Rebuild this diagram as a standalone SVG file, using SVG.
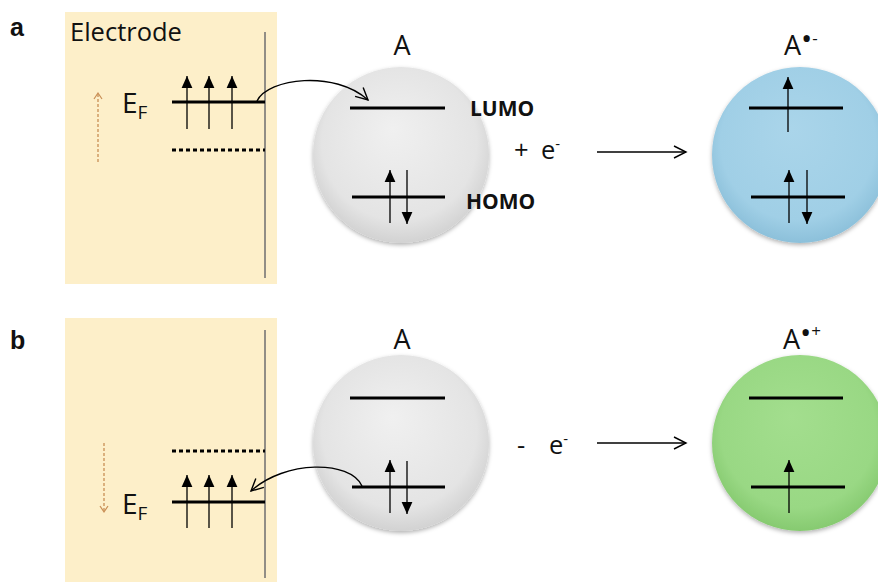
<svg xmlns="http://www.w3.org/2000/svg" width="878" height="582" viewBox="0 0 878 582">
<style>
  text { font-family: "Open Sans", "Liberation Sans", sans-serif; fill: #111; }
  .panel { font-family: "Liberation Sans", Arial, sans-serif; font-weight: bold; font-size: 25px; }
  .lbl { font-size: 25.5px; }
  .ef { font-size: 28px; }
  .mol { font-size: 27px; }
  .orb { font-weight: bold; font-size: 21px; }
  .electrode { fill: #FDEFC9; }
  .wall { stroke: #6E6E6E; stroke-width: 1.5; }
  .level { stroke: #000; stroke-width: 3.2; }
  .dotted { stroke: #000; stroke-width: 3.2; stroke-dasharray: 4 3; }
  .spin { stroke: #000; stroke-width: 1.3; marker-end: url(#spinHead); }
  .shift { stroke: #C98E55; stroke-width: 1.3; stroke-dasharray: 3 2; fill: none; marker-end: url(#shiftHead); }
  .transfer { stroke: #000; stroke-width: 1.4; fill: none; marker-end: url(#openHead); }
</style>
<defs>
  <marker id="spinHead" markerUnits="userSpaceOnUse" markerWidth="12" markerHeight="12" viewBox="0 0 10 9" refX="10" refY="4.5" orient="auto">
    <path d="M0,0 L10,4.5 L0,9 Z" fill="#000"/>
  </marker>
  <marker id="openHead" markerUnits="userSpaceOnUse" markerWidth="16" markerHeight="16" viewBox="-14 -8 16 16" refX="0" refY="0" orient="auto">
    <path d="M-12,-6 L0,0 L-12,6" fill="none" stroke="#000" stroke-width="1.4"/>
  </marker>
  <marker id="shiftHead" markerUnits="userSpaceOnUse" markerWidth="12" markerHeight="12" viewBox="-8 -6 10 12" refX="0" refY="0" orient="auto">
    <path d="M-6,-4 L0,0 L-6,4" fill="none" stroke="#C98E55" stroke-width="1.2"/>
  </marker>
  <radialGradient id="grayFill" cx="50%" cy="45%" r="55%" fx="45%" fy="35%">
    <stop offset="0" stop-color="#F0F0F0"/>
    <stop offset="0.8" stop-color="#E4E4E4"/>
    <stop offset="1" stop-color="#D2D2D2"/>
  </radialGradient>
  <radialGradient id="blueFill" cx="50%" cy="45%" r="55%" fx="45%" fy="35%">
    <stop offset="0" stop-color="#AAD5EA"/>
    <stop offset="0.8" stop-color="#A0CFE6"/>
    <stop offset="1" stop-color="#8CC0DA"/>
  </radialGradient>
  <radialGradient id="greenFill" cx="50%" cy="45%" r="55%" fx="45%" fy="35%">
    <stop offset="0" stop-color="#A3DE8E"/>
    <stop offset="0.8" stop-color="#99D884"/>
    <stop offset="1" stop-color="#86CA70"/>
  </radialGradient>
  <filter id="shadow" x="-20%" y="-20%" width="140%" height="140%">
    <feDropShadow dx="0" dy="2" stdDeviation="2" flood-color="#000" flood-opacity="0.3"/>
  </filter>
</defs>

<!-- Panel labels -->
<text class="panel" x="10" y="36">a</text>
<text class="panel" x="10" y="349">b</text>

<!-- Panel a: electrode -->
<g id="electrode-a">
  <rect class="electrode" x="65" y="12" width="212" height="272"/>
  <line class="wall" x1="265" y1="32" x2="265" y2="278"/>
  <text class="lbl" x="70" y="41">Electrode</text>
  <line class="shift" x1="98" y1="162" x2="98" y2="93"/>
  <text class="ef" x="122" y="113">E<tspan font-size="19" dy="6">F</tspan></text>
  <line class="level" x1="172" y1="102" x2="265" y2="102"/>
  <line class="dotted" x1="172" y1="150" x2="265" y2="150"/>
  <line class="spin" x1="187" y1="129" x2="187" y2="76"/>
  <line class="spin" x1="209" y1="129" x2="209" y2="76"/>
  <line class="spin" x1="232" y1="129" x2="232" y2="76"/>
</g>

<!-- Panel a: molecule A -->
<g id="molecule-a">
  <text class="mol" x="402" y="55" text-anchor="middle">A</text>
  <circle cx="401" cy="155" r="88" fill="url(#grayFill)" filter="url(#shadow)"/>
  <line class="level" x1="350" y1="108" x2="445" y2="108"/>
  <line class="level" x1="352" y1="197" x2="445" y2="197"/>
  <line class="spin" x1="390" y1="223" x2="390" y2="170"/>
  <line class="spin" x1="407" y1="170" x2="407" y2="224"/>
  <text class="orb" x="470" y="116">LUMO</text>
  <text class="orb" x="466" y="209">HOMO</text>
</g>

<g id="reagent-a">
  <text class="lbl" x="514" y="159">+</text>
  <text class="lbl" x="541" y="159">e<tspan font-size="15" dy="-10">-</tspan></text>
</g>

<!-- Panel a: anion -->
<g id="anion">
  <text class="mol" x="784" y="55">A<tspan font-size="30" dy="-6">•</tspan><tspan font-size="17" dy="-5">-</tspan></text>
  <circle cx="800" cy="155" r="88" fill="url(#blueFill)" filter="url(#shadow)"/>
  <line class="level" x1="749" y1="108" x2="843" y2="108"/>
  <line class="level" x1="751" y1="197" x2="845" y2="197"/>
  <line class="spin" x1="788" y1="132" x2="788" y2="77"/>
  <line class="spin" x1="789" y1="223" x2="789" y2="170"/>
  <line class="spin" x1="807" y1="170" x2="807" y2="224"/>
</g>

<!-- Panel b: electrode -->
<g id="electrode-b">
  <rect class="electrode" x="65" y="318" width="212" height="264"/>
  <line class="wall" x1="265" y1="330" x2="265" y2="578"/>
  <line class="shift" x1="104" y1="443" x2="104" y2="512"/>
  <text class="ef" x="122" y="514">E<tspan font-size="19" dy="6">F</tspan></text>
  <line class="dotted" x1="172" y1="451" x2="265" y2="451"/>
  <line class="level" x1="172" y1="502" x2="265" y2="502"/>
  <line class="spin" x1="187" y1="528" x2="187" y2="475"/>
  <line class="spin" x1="209" y1="528" x2="209" y2="475"/>
  <line class="spin" x1="232" y1="528" x2="232" y2="475"/>
</g>

<!-- Panel b: molecule A -->
<g id="molecule-b">
  <text class="mol" x="402" y="349" text-anchor="middle">A</text>
  <circle cx="401" cy="443" r="88" fill="url(#grayFill)" filter="url(#shadow)"/>
  <line class="level" x1="350" y1="398" x2="445" y2="398"/>
  <line class="level" x1="352" y1="487" x2="445" y2="487"/>
  <line class="spin" x1="390" y1="513" x2="390" y2="460"/>
  <line class="spin" x1="407" y1="461" x2="407" y2="514"/>
</g>

<g id="reagent-b">
  <text class="lbl" x="517" y="454">-</text>
  <text class="lbl" x="549" y="454">e<tspan font-size="15" dy="-10">-</tspan></text>
</g>

<!-- Panel b: cation -->
<g id="cation">
  <text class="mol" x="783" y="349">A<tspan font-size="30" dy="-6">•</tspan><tspan font-size="17" dy="-6">+</tspan></text>
  <circle cx="800" cy="443" r="88" fill="url(#greenFill)" filter="url(#shadow)"/>
  <line class="level" x1="749" y1="398" x2="843" y2="398"/>
  <line class="level" x1="751" y1="487" x2="845" y2="487"/>
  <line class="spin" x1="789" y1="513" x2="789" y2="460"/>
</g>

<!-- Connectors -->
<g id="connectors">
  <path class="transfer" d="M257,101 C268,78 335,70 368,100"/>
  <line class="transfer" x1="597" y1="152" x2="686" y2="152"/>
  <path class="transfer" d="M362,486 C350,460 285,460 251,491"/>
  <line class="transfer" x1="597" y1="443" x2="686" y2="443"/>
</g>
</svg>
